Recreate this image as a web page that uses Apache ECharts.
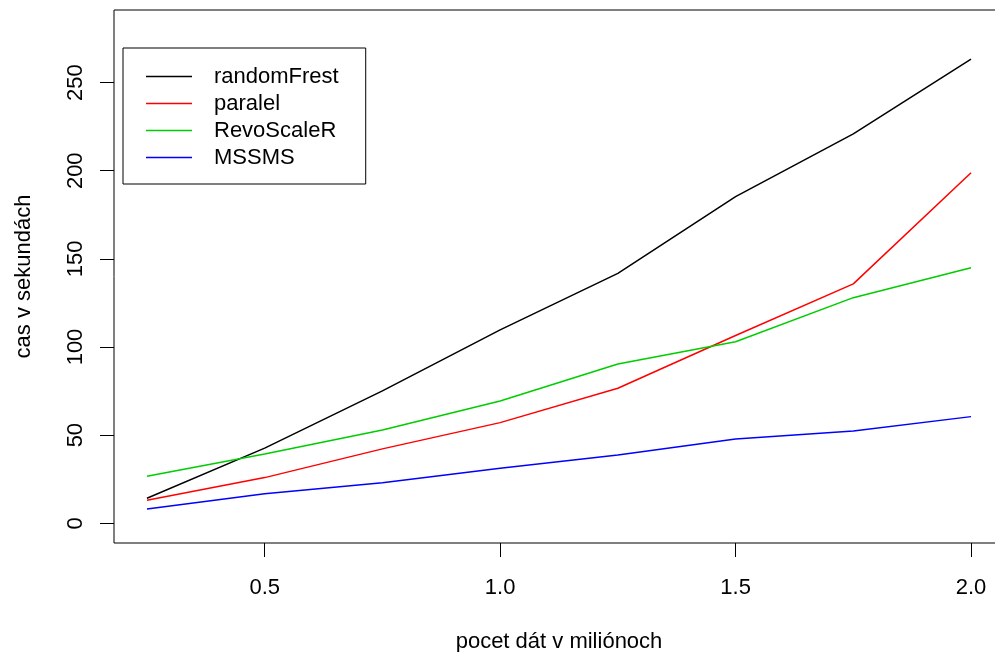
<!DOCTYPE html>
<html>
<head>
<meta charset="utf-8">
<script src="https://cdn.jsdelivr.net/npm/echarts@6/dist/echarts.min.js"></script>
<style>
html,body{margin:0;padding:0;background:#fff;}
#chart{width:995px;height:652px;}
</style>
</head>
<body>
<div id="chart"></div>
<script>
const sizes = [0.25, 0.5, 0.75, 1.0, 1.25, 1.5, 1.75, 2.0];
const randomFrest = [14.2, 42.6, 75.1, 109.7, 141.8, 185.3, 220.9, 263.3];
const paralel = [13.0, 25.9, 42.2, 57.1, 76.6, 106.5, 135.8, 198.9];
const revoScaleR = [26.7, 39.3, 52.9, 69.4, 90.4, 103.0, 128.0, 145.0];
const mssms = [8.1, 16.8, 23.0, 31.2, 38.7, 47.8, 52.4, 60.5];
const seriesNames = ['randomFrest', 'paralel', 'RevoScaleR', 'MSSMS'];
const seriesColors = ['#000000', '#FF0000', '#00CD00', '#0000FF'];
const xTicks = [0.5, 1.0, 1.5, 2.0];
const yTicks = [0, 50, 100, 150, 200, 250];
const xTitle = 'pocet dát v miliónoch';
const yTitle = 'cas v sekundách';

const font = '"Liberation Sans", Arial, Helvetica, sans-serif';
const allData = [randomFrest, paralel, revoScaleR, mssms];

const chart = echarts.init(document.getElementById('chart'), null, {renderer: 'canvas'});
chart.setOption({
  animation: false,
  backgroundColor: '#ffffff',
  textStyle: {fontFamily: font},
  grid: {
    left: 114, top: 10, width: 890, height: 533,
    containLabel: false, outerBoundsMode: 'none',
    show: true, borderColor: '#000', borderWidth: 1, backgroundColor: 'transparent'
  },
  legend: {
    orient: 'vertical',
    left: 123, top: 48,
    padding: [15, 27, 13, 23],
    borderColor: '#000', borderWidth: 1,
    itemWidth: 46, itemHeight: 1.5, itemGap: 0,
    icon: 'rect',
    textStyle: {fontFamily: font, fontSize: 22, color: '#000', lineHeight: 27, padding: [0, 0, 0, 17]},
    data: seriesNames
  },
  xAxis: {
    type: 'value', min: 0.18, max: 2.07,
    name: xTitle, nameLocation: 'middle', nameGap: 88,
    nameTextStyle: {fontFamily: font, fontSize: 22, color: '#000'},
    axisLine: {show: false, onZero: false},
    axisTick: {show: true, customValues: xTicks, length: 14, lineStyle: {color: '#000', width: 1}},
    axisLabel: {customValues: xTicks, fontFamily: font, fontSize: 22, color: '#000', margin: 34,
      formatter: v => v.toFixed(1)},
    splitLine: {show: false}
  },
  yAxis: {
    type: 'value', min: -11.2, max: 291.2,
    name: yTitle, nameLocation: 'middle', nameGap: 79, nameRotate: 90,
    nameTextStyle: {fontFamily: font, fontSize: 22, color: '#000'},
    axisLine: {show: false, onZero: false},
    axisTick: {show: true, customValues: yTicks, length: 14, lineStyle: {color: '#000', width: 1}},
    axisLabel: {customValues: yTicks, rotate: 90, fontFamily: font, fontSize: 22, color: '#000', margin: 27},
    splitLine: {show: false}
  },
  series: seriesNames.map((name, i) => ({
    name: name,
    type: 'line',
    data: sizes.map((x, j) => [x, allData[i][j]]),
    showSymbol: false,
    symbol: 'none',
    color: seriesColors[i],
    lineStyle: {color: seriesColors[i], width: 1.5},
    itemStyle: {color: seriesColors[i]}
  }))
});
</script>
</body>
</html>
